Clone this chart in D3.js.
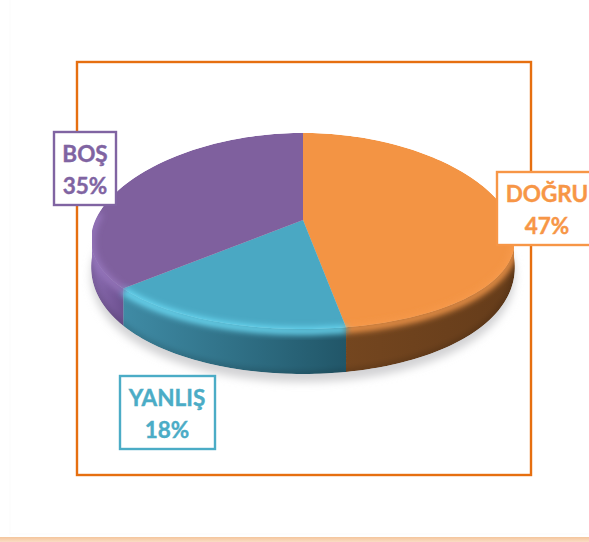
<!DOCTYPE html>
<html>
<head>
<meta charset="utf-8">
<script src="https://cdn.jsdelivr.net/npm/d3@7"></script>
<style>
html, body { margin: 0; padding: 0; background: #fff; }
svg { display: block; }
</style>
</head>
<body>
<svg id="chart"></svg>
<script>
// chart data
const categories = ["DOĞRU", "YANLIŞ", "BOŞ"];
const values = [47, 18, 35];
const topColors = ["#f39444", "#4aa8c3", "#7f609e"];
const rimColors = ["#f79a4c", "#6cdcf6", "#9576bb"];
const wallLeft = ["#74461f", "#3f8ba5", "#8a6bb0"];
const wallRight = ["#653c1a", "#215668", "#6d5190"];
const labelColors = ["#f79646", "#4bacc6", "#8064a2"];

const width = 589, height = 542;
const svg = d3.select("#chart").attr("width", width).attr("height", height)
    .attr("viewBox", [0, 0, width, height]);
const defs = svg.append("defs");

// tilted disc: unit circle to screen, front a bit wider than the back
const px = d3.scaleLinear().domain([-1, 1]).range([92, 514]);
const py = d3.scaleLinear().domain([-1, 1]).range([329, 133]);
const taper = 0.09;
const apexShift = 11;

const wallDepth = a => 26 + 19 * Math.max(0, -Math.cos(a));
const pt = (a, dy = 0) => [px(Math.sin(a) * (1 - taper * Math.cos(a))), py(Math.cos(a)) + dy];
const arcPts = (a0, a1, f = () => 0) => {
    const n = Math.max(2, Math.ceil(Math.abs(a1 - a0) * 40));
    return d3.range(n + 1).map(i => {
        const a = a0 + (a1 - a0) * i / n;
        return pt(a, f(a));
    });
};
const line = d3.line();
const slices = d3.pie().sort(null).value(d => d)(values);
const front = [Math.PI / 2, Math.PI * 1.5];

const blur = (id, sd) => defs.append("filter").attr("id", id)
    .attr("x", "-20%").attr("y", "-20%").attr("width", "140%").attr("height", "140%")
    .append("feGaussianBlur").attr("stdDeviation", sd);
blur("blurShadow", 4.5);
blur("blurRim", 3);

// page edge
svg.append("rect").attr("x", 10).attr("y", -2).attr("width", 590).attr("height", 536)
    .attr("fill", "#fff").attr("stroke", "#fbfbfb").attr("stroke-width", 1);
const band = defs.append("linearGradient").attr("id", "band")
    .attr("x1", 0).attr("x2", 0).attr("y1", 0).attr("y2", 1);
band.append("stop").attr("offset", 0).attr("stop-color", "#f4c59c");
band.append("stop").attr("offset", 1).attr("stop-color", "#f9dcc4");
svg.append("rect").attr("x", 0).attr("y", 537).attr("width", width).attr("height", 5)
    .attr("fill", "url(#band)");

// frame
svg.append("rect").attr("x", 77).attr("y", 62).attr("width", 454).attr("height", 413)
    .attr("fill", "none").attr("stroke", "#e66f10").attr("stroke-width", 2.4);

// ground shadow
svg.append("path")
    .attr("d", line(arcPts(0, 2 * Math.PI, a => wallDepth(a) + 8)) + "Z")
    .attr("fill", "#d2d2d4")
    .attr("filter", "url(#blurShadow)");

// whole silhouette, keeps the rim glow inside the disc
const outline = arcPts(front[1], 2 * Math.PI + front[0])
    .concat(arcPts(front[0], front[1], wallDepth));
defs.append("clipPath").attr("id", "discClip")
    .append("path").attr("d", line(outline) + "Z");
const body = svg.append("g").attr("clip-path", "url(#discClip)");

// side wall, front half only
slices.forEach((s, i) => {
    const a0 = Math.max(s.startAngle, front[0]);
    const a1 = Math.min(s.endAngle, front[1]);
    if (a1 <= a0) return;
    const id = "wall" + i;
    const g = defs.append("linearGradient").attr("id", id)
        .attr("gradientUnits", "userSpaceOnUse")
        .attr("x1", pt(a1)[0]).attr("x2", pt(a0)[0]).attr("y1", 0).attr("y2", 0);
    g.append("stop").attr("offset", 0).attr("stop-color", wallLeft[i]);
    g.append("stop").attr("offset", 1).attr("stop-color", wallRight[i]);
    const pts = arcPts(a0, a1).concat(arcPts(a1, a0, wallDepth));
    body.append("path").attr("d", line(pts) + "Z").attr("fill", `url(#${id})`);

    // darker lower lip of the wall
    body.append("path").attr("d", line(arcPts(a0, a1, wallDepth)))
        .attr("fill", "none").attr("stroke", "#000").attr("stroke-opacity", 0.3)
        .attr("stroke-width", 3).attr("filter", "url(#blurRim)");
});

// top faces
slices.forEach((s, i) => {
    const apex = [px(0), py(0) - apexShift];
    const pts = [apex].concat(arcPts(s.startAngle, s.endAngle));
    body.append("path").attr("d", line(pts) + "Z").attr("fill", topColors[i]);
});

// bevel along the front of the rim
slices.forEach((s, i) => {
    const a0 = Math.max(s.startAngle, front[0] - 0.1);
    const a1 = Math.min(s.endAngle, front[1] + 0.2);
    if (a1 <= a0) return;
    body.append("path").attr("d", line(arcPts(a0, a1, () => 2)))
        .attr("fill", "none").attr("stroke", rimColors[i]).attr("stroke-width", 7)
        .attr("filter", "url(#blurRim)");
});

// labels
const labelBoxes = [
    { x: 497, y: 172, w: 100, h: 73, cx: 547 },
    { x: 120, y: 376, w: 95, h: 73, cx: 167 },
    { x: 54, y: 132, w: 62, h: 73, cx: 85 }
];
const label = svg.append("g").selectAll("g").data(categories).join("g");
label.append("rect")
    .attr("x", (d, i) => labelBoxes[i].x).attr("y", (d, i) => labelBoxes[i].y)
    .attr("width", (d, i) => labelBoxes[i].w).attr("height", (d, i) => labelBoxes[i].h)
    .attr("fill", "#fff").attr("stroke", (d, i) => labelColors[i]).attr("stroke-width", 2.4);
const labelText = (sel, dy, txt) => sel.append("text")
    .attr("x", (d, i) => labelBoxes[i].cx).attr("y", (d, i) => labelBoxes[i].y + dy)
    .attr("text-anchor", "middle")
    .attr("font-family", "Lato, sans-serif").attr("font-weight", 700).attr("font-size", 22.5)
    .attr("fill", (d, i) => labelColors[i])
    .attr("stroke", (d, i) => labelColors[i]).attr("stroke-width", 0.4)
    .text(txt);
labelText(label, 30, d => d);
labelText(label, 62, (d, i) => values[i] + "%");
</script>
</body>
</html>
